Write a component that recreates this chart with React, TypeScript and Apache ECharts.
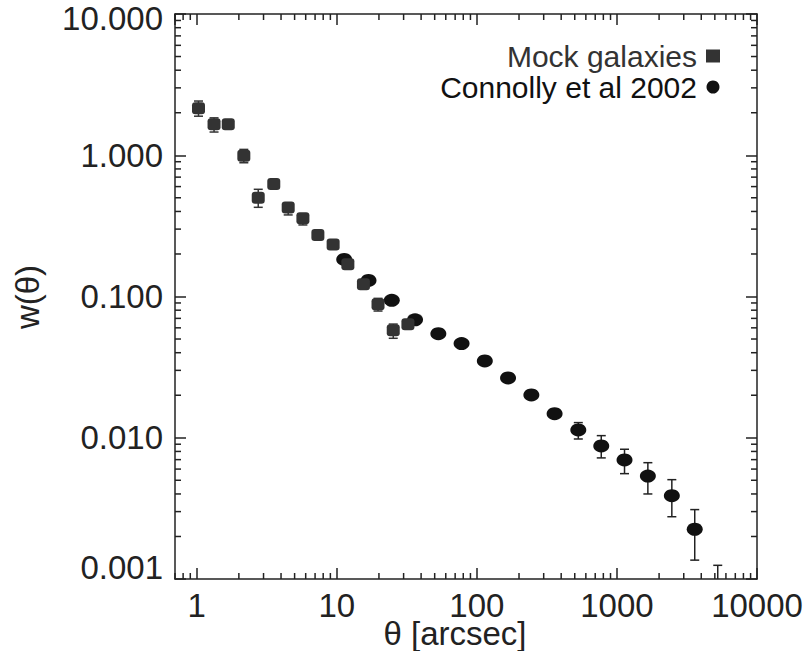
import React, { useEffect, useRef } from 'react';
import * as echarts from 'echarts';

// Mock galaxies (squares)
const mockTheta = [1.03, 1.33, 1.68, 2.17, 2.75, 3.55, 4.5, 5.73, 7.33, 9.42, 12.0, 15.5, 19.7, 25.3, 32.2];
const mockW = [2.15, 1.66, 1.66, 0.99, 0.5, 0.626, 0.427, 0.358, 0.2725, 0.233, 0.169, 0.122, 0.0881, 0.0577, 0.0637];
const mockLow = [1.89, 1.46, null, 0.885, 0.428, null, 0.378, 0.321, null, null, null, null, 0.0789, 0.0506, null];
const mockHigh = [2.42, 1.84, null, 1.1, 0.574, null, 0.46, 0.38, null, null, null, null, 0.097, 0.0638, null];

// Connolly et al 2002 (circles)
const conTheta = [11.3, 16.85, 24.7, 36.2, 53.1, 77.8, 114, 167, 245, 359, 530, 773, 1133, 1663, 2466, 3593, 5245];
const conW = [0.183, 0.13, 0.094, 0.0684, 0.0545, 0.0464, 0.035, 0.0265, 0.0201, 0.0148, 0.01135, 0.00875, 0.00697, 0.00536, 0.00389, 0.00225, 0.0006];
const conLow = [null, null, null, null, null, null, null, null, null, null, 0.0098, 0.0072, 0.00557, 0.004, 0.00276, 0.00136, 0.0003];
const conHigh = [null, null, null, null, null, null, null, null, null, null, 0.0128, 0.01035, 0.00829, 0.00666, 0.00505, 0.0031, 0.00125];

// Axis ranges and titles
const xMin = 0.7;
const xMax = 10000;
const yMin = 0.001;
const yMax = 10;
const xTitle = 'θ [arcsec]';
const yTitle = 'w(θ)';
const xDecades = [0.1, 1, 10, 100, 1000];
const yDecades = [0.001, 0.01, 0.1, 1];
const minorMultipliers = [2, 3, 4, 5, 6, 7, 8, 9];

const FONT = '"Liberation Sans", Arial, Helvetica, sans-serif';

export default function App() {
  const ref = useRef<HTMLDivElement>(null);

  useEffect(() => {
    if (!ref.current) return;
    const chart = echarts.init(ref.current, null, { renderer: 'svg' });

    const tickData: number[][] = [];
    xDecades.forEach((d) => {
      minorMultipliers.forEach((m) => {
        const v = d * m;
        if (v > xMin && v < xMax) {
          tickData.push([v, yMin, 0]);
          tickData.push([v, yMax, 1]);
        }
      });
    });
    yDecades.forEach((d) => {
      minorMultipliers.forEach((m) => {
        const v = d * m;
        if (v > yMin && v < yMax) {
          tickData.push([xMin, v, 2]);
          tickData.push([xMax, v, 3]);
        }
      });
    });

    const errData = (xs: number[], lows: (number | null)[], highs: (number | null)[]) =>
      xs
        .map((x, i) => (lows[i] != null && highs[i] != null ? [x, lows[i], highs[i]] : null))
        .filter((d) => d !== null);

    const errRender = (color: string) => (params: any, api: any) => {
      const x = api.value(0);
      const lo = api.value(1);
      const hi = api.value(2);
      const pLo = api.coord([x, lo]);
      const pHi = api.coord([x, hi]);
      const cap = 4.5;
      const style = { stroke: color, lineWidth: 1.5 };
      return {
        type: 'group',
        children: [
          { type: 'line', shape: { x1: pLo[0], y1: pLo[1], x2: pHi[0], y2: pHi[1] }, style },
          { type: 'line', shape: { x1: pLo[0] - cap, y1: pLo[1], x2: pLo[0] + cap, y2: pLo[1] }, style },
          { type: 'line', shape: { x1: pHi[0] - cap, y1: pHi[1], x2: pHi[0] + cap, y2: pHi[1] }, style },
        ],
      };
    };

    const axisLineStyle = { color: '#222', width: 1.5 };
    const FS = 33;
    const labelStyle = { fontFamily: FONT, fontSize: FS, color: '#222' };

    const option: any = {
      animation: false,
      backgroundColor: '#fff',
      grid: {
        left: 175,
        right: 48,
        top: 14,
        bottom: 72,
        containLabel: false,
        outerBoundsMode: 'none',
      },
      graphic: [
        {
          type: 'text',
          x: 27,
          y: 297,
          rotation: Math.PI / 2,
          silent: true,
          style: {
            text: yTitle,
            fontFamily: FONT,
            fontSize: FS,
            fill: '#222',
            align: 'center',
            verticalAlign: 'middle',
          },
        },
      ],
      legend: {
        orient: 'vertical',
        right: 80,
        top: 36,
        align: 'right',
        itemGap: 1,
        itemWidth: 14,
        itemHeight: 13,
        selectedMode: false,
        textStyle: { fontFamily: FONT, fontSize: 30, color: '#222', padding: [0, 4, 0, 0] },
        data: [
          { name: 'Mock galaxies', icon: 'rect', textStyle: { color: '#333' } },
          { name: 'Connolly et al 2002', icon: 'circle', textStyle: { color: '#111' } },
        ],
      },
      xAxis: [
        {
          type: 'log',
          logBase: 10,
          min: xMin,
          max: xMax,
          position: 'bottom',
          name: xTitle,
          nameLocation: 'middle',
          nameGap: 43,
          nameMoveOverlap: false,
          nameTextStyle: { ...labelStyle, lineHeight: 22, padding: [0, 22, 0, 0] },
          axisLine: { show: true, lineStyle: axisLineStyle },
          axisTick: { show: true, inside: true, length: 11, lineStyle: axisLineStyle },
          axisLabel: {
            ...labelStyle,
            lineHeight: 22,
            margin: 15,
            showMinLabel: false,
            showMaxLabel: true,
            formatter: (v: number) => String(Math.round(v)),
          },
          splitLine: { show: false },
        },
        {
          type: 'log',
          logBase: 10,
          min: xMin,
          max: xMax,
          position: 'top',
          axisLine: { show: true, lineStyle: axisLineStyle },
          axisTick: { show: true, inside: true, length: 11, lineStyle: axisLineStyle },
          axisLabel: { show: false },
          splitLine: { show: false },
        },
      ],
      yAxis: [
        {
          type: 'log',
          logBase: 10,
          min: yMin,
          max: yMax,
          position: 'left',
          axisLine: { show: true, lineStyle: axisLineStyle },
          axisTick: { show: true, inside: true, length: 11, lineStyle: axisLineStyle },
          axisLabel: {
            ...labelStyle,
            margin: 12,
            formatter: (v: number) => {
              const s = v.toFixed(3);
              if (v > 5) return '{top|' + s + '}';
              if (v < 0.0015) return '{bot|' + s + '}';
              return s;
            },
            rich: {
              top: { ...labelStyle, padding: [8, 0, 0, 0] },
              bot: { ...labelStyle, padding: [0, 0, 24, 0] },
            },
          },
          splitLine: { show: false },
        },
        {
          type: 'log',
          logBase: 10,
          min: yMin,
          max: yMax,
          position: 'right',
          axisLine: { show: true, lineStyle: axisLineStyle },
          axisTick: { show: true, inside: true, length: 11, lineStyle: axisLineStyle },
          axisLabel: { show: false },
          splitLine: { show: false },
        },
      ],
      series: [
        {
          type: 'custom',
          name: 'minorTicks',
          silent: true,
          clip: false,
          z: 1,
          encode: { x: 0, y: 1 },
          data: tickData,
          renderItem: (params: any, api: any) => {
            const p = api.coord([api.value(0), api.value(1)]);
            const side = api.value(2);
            const len = 6;
            let shape;
            if (side === 0) shape = { x1: p[0], y1: p[1], x2: p[0], y2: p[1] - len };
            else if (side === 1) shape = { x1: p[0], y1: p[1], x2: p[0], y2: p[1] + len };
            else if (side === 2) shape = { x1: p[0], y1: p[1], x2: p[0] + len, y2: p[1] };
            else shape = { x1: p[0], y1: p[1], x2: p[0] - len, y2: p[1] };
            return { type: 'line', shape, style: { stroke: '#222', lineWidth: 1.5 } };
          },
        },
        {
          type: 'custom',
          name: 'conErr',
          silent: true,
          clip: true,
          z: 2,
          encode: { x: 0, y: [1, 2] },
          data: errData(conTheta, conLow, conHigh),
          renderItem: errRender('#222'),
        },
        {
          type: 'custom',
          name: 'mockErr',
          silent: true,
          clip: true,
          z: 2,
          encode: { x: 0, y: [1, 2] },
          data: errData(mockTheta, mockLow, mockHigh),
          renderItem: errRender('#333'),
        },
        {
          type: 'scatter',
          name: 'Connolly et al 2002',
          symbol: 'circle',
          symbolSize: [16, 13],
          clip: true,
          z: 3,
          itemStyle: { color: '#111', opacity: 1 },
          data: conTheta.map((x, i) => [x, conW[i]]),
        },
        {
          type: 'scatter',
          name: 'Mock galaxies',
          symbol: 'roundRect',
          symbolSize: [13, 12],
          clip: true,
          z: 4,
          itemStyle: { color: '#333', opacity: 1 },
          data: mockTheta.map((x, i) => [x, mockW[i]]),
        },
      ],
    };

    chart.setOption(option);
    return () => chart.dispose();
  }, []);

  return (
    <div
      ref={ref}
      style={{ position: 'fixed', left: 0, top: 0, width: 805, height: 651, background: '#fff' }}
    />
  );
}
